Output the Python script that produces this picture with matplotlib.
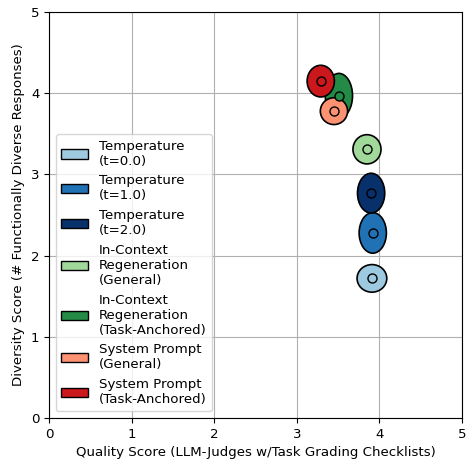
import matplotlib
matplotlib.use("Agg")
import matplotlib.pyplot as plt
from matplotlib.patches import Ellipse, Patch

plt.rcParams["font.size"] = 9.65

labels = ["Temperature\n(t=0.0)", "Temperature\n(t=1.0)", "Temperature\n(t=2.0)",
          "In-Context\nRegeneration\n(General)", "In-Context\nRegeneration\n(Task-Anchored)",
          "System Prompt\n(General)", "System Prompt\n(Task-Anchored)"]
quality = [3.91, 3.92, 3.90, 3.85, 3.51, 3.45, 3.29]
diversity = [1.72, 2.28, 2.77, 3.31, 3.97, 3.78, 4.15]
quality_spread = [0.36, 0.33, 0.33, 0.34, 0.33, 0.33, 0.33]
diversity_spread = [0.34, 0.50, 0.49, 0.36, 0.55, 0.33, 0.39]
colors = ["#9ecae1", "#2171b5", "#08306b", "#a1d99b", "#238b45", "#fc9272", "#cb181d"]

fig, ax = plt.subplots(figsize=(4.68, 4.66), dpi=100)
fig.subplots_adjust(left=0.105, right=0.987, top=0.974, bottom=0.103)

handles = []
for q, d, w, h, c, lab in zip(quality, diversity, quality_spread, diversity_spread, colors, labels):
    ax.add_patch(Ellipse((q, d), w, h, facecolor=c, edgecolor="black", lw=1.2, zorder=3))
    handles.append(Patch(facecolor=c, edgecolor="black", label=lab))
for q, d, c in zip(quality, diversity, colors):
    ax.plot(q, d, "o", markersize=6.5, markerfacecolor=c, markeredgecolor="black",
            markeredgewidth=1.0, zorder=4)

ax.set_xlim(0, 5)
ax.set_ylim(0, 5)
ax.set_xticks(range(6))
ax.set_yticks(range(6))
ax.grid(True, color="#b0b0b0", lw=0.8)
ax.set_axisbelow(True)
ax.set_xlabel("Quality Score (LLM-Judges w/Task Grading Checklists)")
ax.set_ylabel("Diversity Score (# Functionally Diverse Responses)")
ax.legend(handles=handles, loc="lower left")
fig.savefig("out.png")
